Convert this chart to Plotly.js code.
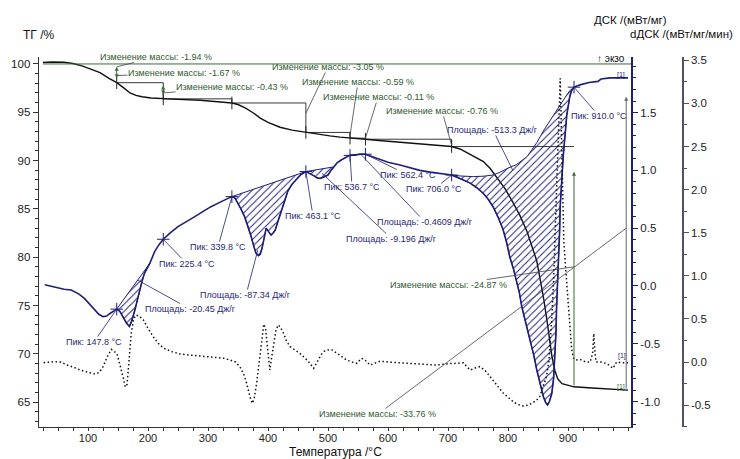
<!DOCTYPE html>
<html><head><meta charset="utf-8">
<script src="https://cdn.plot.ly/plotly-3.0.1.min.js"></script>
<style>html,body{margin:0;padding:0;background:#fff}#chart{width:740px;height:459px}</style>
</head><body><div id="chart"></div>
<script>
// ---------- DATA ----------
const tgT   = [25,40,60,75,90,105,120,135,148,160,170,180,190,205,225.4,250,287,315,339.8,350,362,375,387,400,420,440,463.1,485,503,520,536.7,552,562.4,590,620,642,670,706,720,732,745,759,770,782,795,808,820,832,840,848,853,860,866,873,878,883,890,900,910,940,970,1000];
const tgVal = [100.15,100.2,100.18,100.05,99.8,99.45,99.1,98.5,98.06,97.5,97.0,96.75,96.6,96.48,96.39,96.33,96.25,96.12,95.96,95.8,95.45,94.95,94.4,93.95,93.45,93.15,92.91,92.7,92.55,92.43,92.32,92.26,92.21,92.05,91.9,91.8,91.62,91.45,91.2,90.8,90.4,89.9,89.2,88.2,87.1,85.7,84.3,82.6,81.2,79.6,77.9,75.5,73.0,69.8,68.3,67.4,66.9,66.7,66.58,66.45,66.35,66.24];

const dscT   = [28,40,50,60,72,85,94,103,111,118,125,131,136,142,147.8,153,158,164,169,173,178,182,186,190,194,203,211,218,225.4,237,250,264,278,292,305,322,339.8,345,350,355,361,367,372,377,380,384,387,390,394,397,401,405,409,412,416,419,424,428,433,440,448,455,463.1,470,476,482,487,494,500,505,509,515,522,528,534,536.7,545,553,562.4,575,587,600,620,640,653,670,690,706,720,737,748,759,767,775,784,792,798,803,809,814,819,823,830,837,843,848,854,859,863,866,869,873,876,878,880,881,883,884,886,887,889,892,895,898,903,906,910,920,935,950,955,970,1000];
const dscVal = [0.01,-0.005,-0.02,-0.028,-0.035,-0.07,-0.107,-0.16,-0.21,-0.245,-0.265,-0.26,-0.24,-0.22,-0.2,-0.22,-0.265,-0.32,-0.35,-0.3,-0.21,-0.12,-0.035,0.04,0.11,0.196,0.297,0.355,0.404,0.46,0.513,0.56,0.6,0.645,0.686,0.73,0.773,0.76,0.715,0.665,0.6,0.51,0.427,0.33,0.283,0.262,0.275,0.326,0.42,0.5,0.47,0.44,0.46,0.484,0.55,0.6,0.68,0.744,0.82,0.88,0.93,0.965,0.99,0.975,0.955,0.935,0.93,0.945,0.96,1.0,1.03,1.065,1.09,1.11,1.125,1.13,1.138,1.14,1.14,1.115,1.09,1.07,1.047,1.02,1.0,0.985,0.97,0.96,0.93,0.89,0.85,0.80,0.75,0.686,0.59,0.484,0.37,0.25,0.15,0.052,-0.06,-0.18,-0.32,-0.467,-0.6,-0.727,-0.85,-0.958,-1.01,-1.03,-1.0,-0.93,-0.8,-0.61,-0.4,-0.18,0.03,0.25,0.47,0.686,0.9,1.12,1.3,1.48,1.64,1.69,1.72,1.74,1.76,1.77,1.79,1.8,1.8];

const ddscT   = [26,42,55,65,76,87,100,112,119,125,132,139,144,148,152,156,160,162,165,167,170,172,176,180,186,192,200,209,218,226,240,253,270,287,309,325,337,346,353,360,364,367,371,374,377,381,385,388,390,393,396,398,401,403,406,409,413,417,421,426,431,437,445,453,461,468,476,482,489,495,500,507,515,522,531,540,548,556,562,570,578,587,600,625,650,681,700,715,726,732,737,745,753,762,770,780,792,805,815,825,833,842,848,853,858,864,868,870,873,876,879,882,884,886,887,888,890,893,896,900,903,906,909,912,920,926,933,937,941,943,945,947,955,965,975,981,990,1000];
const ddscVal = [-0.008,0.003,0.0,-0.035,-0.06,-0.093,-0.12,-0.14,-0.12,-0.055,0.06,0.147,0.12,0.1,0.0,-0.1,-0.22,-0.29,-0.26,-0.1,0.15,0.33,0.5,0.545,0.53,0.49,0.39,0.29,0.21,0.16,0.12,0.093,0.08,0.07,0.06,0.045,0.023,0.0,-0.054,-0.15,-0.24,-0.325,-0.43,-0.48,-0.42,-0.25,0.0,0.2,0.29,0.44,0.38,0.255,0.05,-0.093,0.05,0.2,0.36,0.43,0.4,0.33,0.24,0.178,0.14,0.1,0.05,0.0,-0.073,0.0,0.09,0.13,0.14,0.14,0.1,0.06,0.023,0.0,-0.015,0.043,0.02,-0.035,-0.01,0.01,0.0,-0.01,-0.02,-0.035,-0.02,-0.01,-0.01,-0.06,-0.093,-0.07,-0.054,-0.1,-0.17,-0.26,-0.36,-0.44,-0.49,-0.51,-0.5,-0.47,-0.44,-0.40,-0.3,-0.17,0.0,0.2,0.5,0.95,1.6,2.19,2.58,3.1,3.29,3.0,2.2,1.4,1.1,0.75,0.45,0.15,0.05,0.023,0.03,0.01,0.0,0.0,0.1,0.33,0.1,0.0,0.0,-0.02,-0.073,0.0,-0.01,-0.01];

// sigmoidal baseline of the big peak
const baseT   = [706,720,742,760,775,787,800,814,832,848,860,870,880,887,895,903,910];
const baseVal = [0.96,0.952,0.946,0.95,0.96,0.985,1.02,1.05,1.12,1.24,1.35,1.436,1.51,1.566,1.63,1.69,1.72];

const peakT = [147.8,225.4,339.8,463.1,536.7,562.4,706.0,910.0];
const areaFrom  = [147.8,339.8,463.1,536.7,706];
const areaTo    = [203,463.1,509,562.4,910];
const areaValue = [-20.45,-87.34,-9.196,-0.4609,-513.3];
const stepT      = [147.8,225.4,339.8,463.1,536.7,562.4,706.0,910.0];
const massChange = [-1.94,-1.67,-0.43,-3.05,-0.59,-0.11,-0.76,-24.87];
const totalChange = -33.76;
const xTicks = [100,200,300,400,500,600,700,800,900];
const tgTicks = [65,70,75,80,85,90,95,100];
const dscTicks = [-1.0,-0.5,0.0,0.5,1.0,1.5];
const ddscTicks = [-0.5,0.0,0.5,1.0,1.5,2.0,2.5,3.0,3.5];

// ---------- STYLE ----------
const NAVY='#1f1f78', GREEN='#3a6b3a', GTXT='#2f5a2f', BLK='#111';
const XR=[18.3,1005], TGR=[62.42,100.72], DSCR=[-1.220,1.981], DDR=[-0.754,3.538];
const PL=39, PT=57, PW=592, PH=370;
const px = T => PL + (T-XR[0])/(XR[1]-XR[0])*PW;
const py = (v,r) => PT + (r[1]-v)/(r[1]-r[0])*PH;

const traces=[];
// hatched areas
areaFrom.forEach((f,i)=>{
  const a=dscT.indexOf(f), b=dscT.indexOf(areaTo[i]);
  let xs=dscT.slice(a,b+1), ys=dscVal.slice(a,b+1);
  if (f===baseT[0]) { xs=xs.concat(baseT.slice().reverse()); ys=ys.concat(baseVal.slice().reverse()); }
  else { xs=xs.concat([dscT[a]]); ys=ys.concat([dscVal[a]]); }
  traces.push({x:xs,y:ys,yaxis:'y2',type:'scatter',mode:'lines',fill:'toself',fillcolor:'rgba(0,0,0,0)',
    fillpattern:{shape:'/',fgcolor:NAVY,bgcolor:'rgba(255,255,255,0)',size:5,solidity:0.2},
    line:{color:NAVY,width:1},hoverinfo:'skip'});
});
// mass-change staircase
const levels=[]; let acc=100; massChange.forEach(m=>{acc+=m; levels.push(acc);});
const sx=[], sy=[];
for (let i=0;i<stepT.length-1;i++){ sx.push(stepT[i],stepT[i+1]); sy.push(levels[i],levels[i]); if(i+1<stepT.length-1){ sx.push(stepT[i+1]); sy.push(levels[i+1]); } }
traces.push({x:sx,y:sy,yaxis:'y',mode:'lines',line:{color:'#222',width:0.9},hoverinfo:'skip'});
// curves
traces.push({x:ddscT,y:ddscVal,yaxis:'y3',mode:'lines',line:{color:BLK,width:1.5,dash:'1.5px,2.5px'},hoverinfo:'skip'});
traces.push({x:tgT,y:tgVal,yaxis:'y',mode:'lines',line:{color:BLK,width:1.4},hoverinfo:'skip'});
traces.push({x:dscT,y:dscVal,yaxis:'y2',mode:'lines',line:{color:NAVY,width:1.6},hoverinfo:'skip'});
// peak markers
const peakV = peakT.map(t=>dscVal[dscT.indexOf(t)]);
traces.push({x:peakT,y:peakV,yaxis:'y2',mode:'markers',marker:{symbol:'cross-thin',size:9,line:{color:NAVY,width:1}},hoverinfo:'skip'});
// step markers on TG
traces.push({x:stepT.slice(0,7),y:levels.slice(0,7),yaxis:'y',mode:'markers',marker:{symbol:'line-ns',size:9,line:{color:'#222',width:1}},hoverinfo:'skip'});

// ---------- ANNOTATIONS ----------
const ann=[];
function lead(x,y,yref,r,lx,ly,text,col,lcol){
  ann.push({xref:'x',yref:yref,x:x,y:y,ax:lx-px(x),ay:ly-py(y,r),text:text,showarrow:true,arrowhead:0,
    arrowwidth:0.8,arrowcolor:lcol||col,standoff:0,font:{size:9,color:col},borderpad:0});
}
const peakLabelPos=[[94,342],[187,264],[218,247],[313,216],[352,187],[408,175],[434,189],[599,116]];
peakT.forEach((t,i)=>lead(t,peakV[i],'y2',DSCR,peakLabelPos[i][0],peakLabelPos[i][1],'Пик: '+t.toFixed(1)+' °C',NAVY));
const areaLabelPos=[[190,309],[246,295],[392,239],[425,222],[493,130]];
const areaHead=[[183,0.05],[383,0.31],[490,0.975],[555,1.137],[808,1.0]];
areaValue.forEach((v,i)=>lead(areaHead[i][0],areaHead[i][1],'y2',DSCR,areaLabelPos[i][0],areaLabelPos[i][1],'Площадь: '+v+' Дж/г',NAVY));
const massLabelPos=[[156,57],[184,73],[232,87],[328,67],[358,82],[378,97],[442,111],[449,285]];
const massHead=[[147.8,99.7],[147.8,98.8],[225.4,97.0],[463.1,94.9],[536.7,92.6],[562.4,92.3],[706,91.6],[910,79.0]];
massChange.forEach((m,i)=>lead(massHead[i][0],massHead[i][1],'y',TGR,massLabelPos[i][0],massLabelPos[i][1],'Изменение массы: '+m+' %',GTXT,'#444'));
lead(997,83.0,'y',TGR,378,414,'Изменение массы: '+totalChange+' %',GTXT,'#444');
// arrows
function arr(x,y0,y1,col,both){ ann.push({xref:'x',yref:'y',axref:'x',ayref:'y',x:x,y:y1,ax:x,ay:y0,text:'',showarrow:true,arrowhead:2,arrowsize:0.8,arrowwidth:1,arrowcolor:col,arrowside:both?'end+start':'end'}); }
arr(stepT[0],levels[0]+0.3,100-0.3,GREEN,true);
arr(stepT[1],levels[1]+0.3,levels[0]-0.3,GREEN,true);
arr(stepT[7],levels[7],88.85,GREEN,false);
arr(997,100+totalChange,96.6,'#666',false);
// texts
function txt(x,y,t,size,col,anchor){ ann.push({xref:'paper',yref:'paper',x:(x-PL)/643,y:(PT+PH-y)/PH,text:t,showarrow:false,xanchor:anchor||'center',yanchor:'middle',font:{size:size,color:col},borderpad:0}); }
txt(38,35,'ТГ /%',12,'#111');
txt(630,20,'ДСК /(мВт/мг)',11.5,'#111');
txt(681,34,'dДСК /(мВт/мг/мин)',11.5,'#111');
txt(611,59,'↑ экзо',10,'#111');
txt(335,452,'Температура /°C',12,'#111');
txt(621,75,'[1]',7,NAVY); txt(622,356,'[1]',7,NAVY); txt(621,387,'[1]',7,GREEN);

const layout={
  width:740,height:459,margin:{l:39,r:58,t:57,b:32},paper_bgcolor:'#fff',plot_bgcolor:'#fff',showlegend:false,
  font:{family:'Liberation Sans, Arial, sans-serif',size:11,color:'#222'},
  xaxis:{domain:[0,PW/643],range:XR,tickmode:'array',tickvals:xTicks,ticktext:xTicks.map(String),ticks:'outside',ticklen:3,tickcolor:'#333',
    ticklabelstandoff:-3,
    showline:true,linecolor:'#333',linewidth:1.4,showgrid:false,zeroline:false,
    minor:{tickmode:'linear',tick0:0,dtick:25,ticks:'outside',ticklen:3,tickcolor:'#333'},tickfont:{size:11,color:'#222'}},
  yaxis:{range:TGR,tickmode:'array',tickvals:tgTicks,ticktext:tgTicks.map(String),ticks:'outside',ticklen:5,tickcolor:'#333',
    showline:true,linecolor:'#333',linewidth:1.4,showgrid:false,zeroline:false,
    minor:{tickmode:'linear',tick0:0,dtick:1,ticks:'outside',ticklen:3,tickcolor:'#333'},tickfont:{size:11.5,color:'#222'}},
  yaxis2:{overlaying:'y',side:'right',anchor:'x',range:DSCR,tickmode:'array',tickvals:dscTicks,ticktext:dscTicks.map(v=>v.toFixed(1)),
    ticks:'outside',ticklen:5,tickcolor:NAVY,showline:true,linecolor:NAVY,linewidth:2,showgrid:false,zeroline:false,
    minor:{tickmode:'linear',tick0:0,dtick:0.1,ticks:'outside',ticklen:3,tickcolor:NAVY},tickfont:{size:11.5,color:'#222'}},
  yaxis3:{overlaying:'y',side:'right',anchor:'free',position:1,range:DDR,tickmode:'array',tickvals:ddscTicks,ticktext:ddscTicks.map(v=>v.toFixed(1)),
    ticks:'outside',ticklen:5,tickcolor:'#505068',showline:true,linecolor:'#505068',linewidth:1.6,showgrid:false,zeroline:false,
    minor:{tickmode:'linear',tick0:0,dtick:0.25,ticks:'outside',ticklen:3,tickcolor:'#505068'},tickfont:{size:11.5,color:'#222'}},
  shapes:[{type:'line',xref:'paper',yref:'y',x0:(43-PL)/643,x1:PW/643,y0:100,y1:100,line:{color:GREEN,width:1}}],
  annotations:ann
};
Plotly.newPlot('chart',traces,layout,{staticPlot:true,displayModeBar:false});
</script></body></html>
